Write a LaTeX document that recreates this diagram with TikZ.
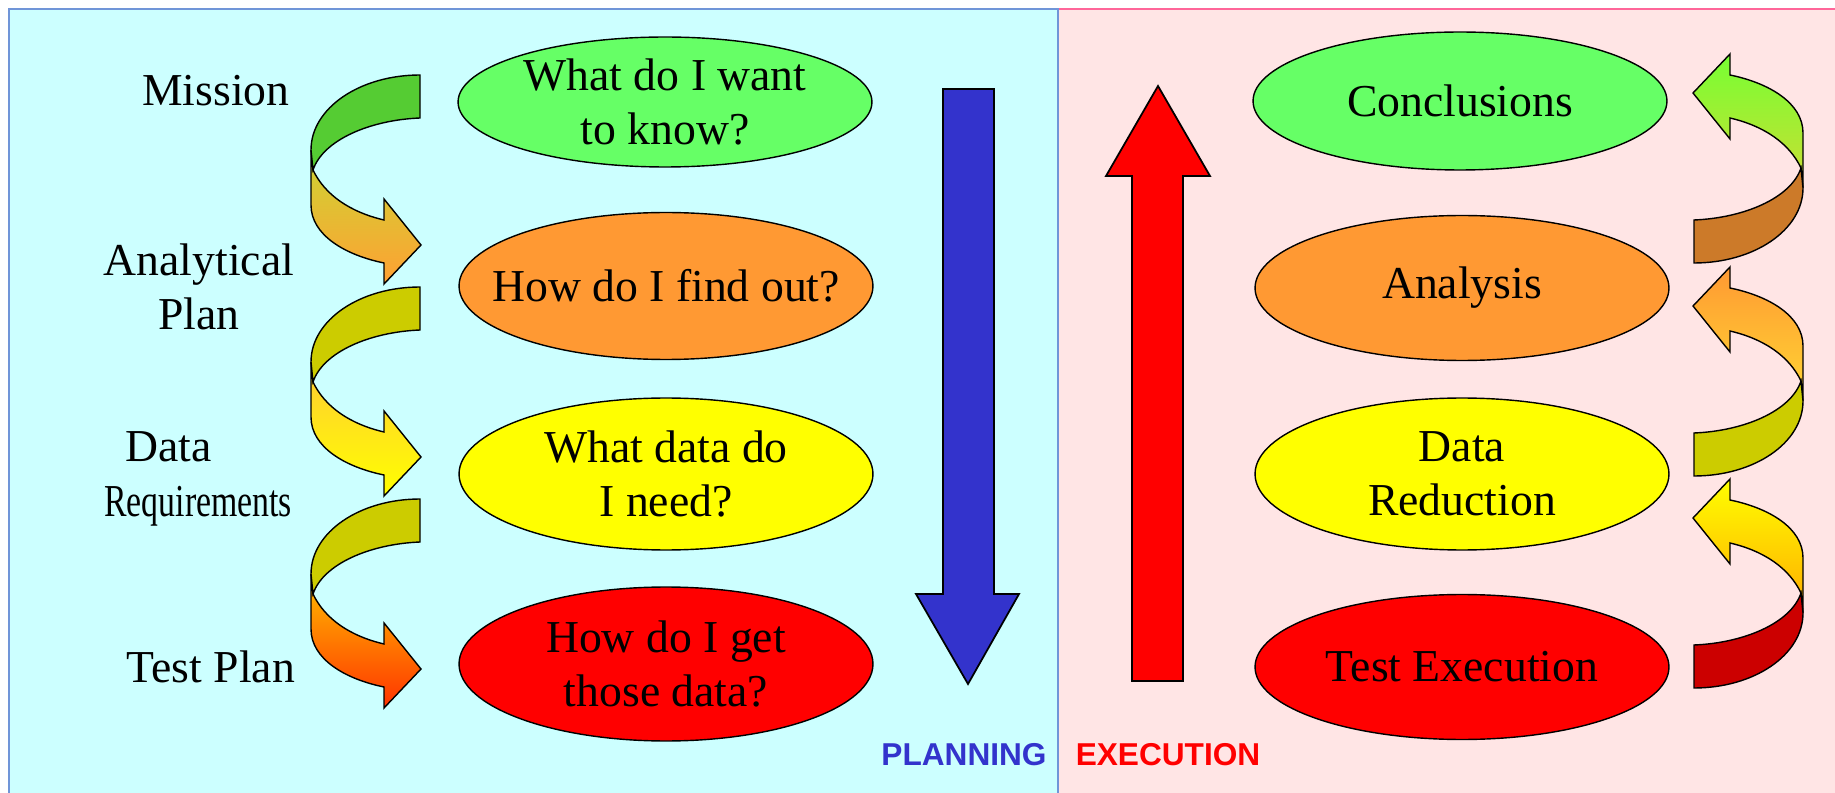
\documentclass[tikz,border=0pt]{standalone}
\usepackage{fontspec}
\setmainfont{Liberation Serif}
\setsansfont{Liberation Sans}
\usepackage{tikz}
\usetikzlibrary{shapes}

\definecolor{planbg}{HTML}{CCFFFF}
\definecolor{execbg}{HTML}{FFE5E5}
\definecolor{planline}{HTML}{7095D8}
\definecolor{execline}{HTML}{FF6699}
\definecolor{lgreen}{HTML}{66FF66}
\definecolor{lorange}{HTML}{FF9933}
\definecolor{lyellow}{HTML}{FFFF00}
\definecolor{lred}{HTML}{FF0000}
\definecolor{planblue}{HTML}{3333CC}
% turning arrow colours
\definecolor{bandgreen}{HTML}{55CC33}
\definecolor{bandolive}{HTML}{CCCC00}
\definecolor{bandbrown}{HTML}{CC7A29}
\definecolor{banddred}{HTML}{CC0000}
\definecolor{twista}{HTML}{CCD633}
\definecolor{heada}{HTML}{FFA033}
\definecolor{twistb}{HTML}{FFCC33}
\definecolor{twistc}{HTML}{FFC000}
\definecolor{headc}{HTML}{FF3300}
\definecolor{headr}{HTML}{77FF33}
\definecolor{twistr}{HTML}{CCDD33}
\definecolor{twists}{HTML}{FFD633}
\definecolor{twistt}{HTML}{FFAA00}

% turning arrow going down (left side), origin = top right of the band
\newcommand{\downturn}[4]{%
  \begin{scope}[shift={#1}]
    \shade[draw=black, line width=0.8pt, top color=#3, bottom color=#4]
      (-109,75) -- (-109,130) .. controls (-109,160) and (-75,180) .. (-36,188)
      -- (-36,209) -- (1,170) -- (-36,124) -- (-36,145)
      .. controls (-70,137) and (-95,120) .. (-107,95) -- cycle;
    \filldraw[fill=#2, line width=0.8pt]
      (0,0) .. controls (-60,0) and (-109,33) .. (-109,75) -- (-107,95)
      .. controls (-97,65) and (-50,45) .. (0,43) -- cycle;
  \end{scope}}

% turning arrow going up (right side), origin = bottom left of the band
\newcommand{\upturn}[4]{%
  \begin{scope}[shift={#1}]
    \shade[draw=black, line width=0.8pt, top color=#3, bottom color=#4]
      (109,-75) -- (109,-130) .. controls (109,-160) and (75,-180) .. (36,-188)
      -- (36,-209) -- (-1,-170) -- (36,-124) -- (36,-145)
      .. controls (70,-137) and (95,-120) .. (107,-95) -- cycle;
    \filldraw[fill=#2, line width=0.8pt]
      (0,0) .. controls (60,0) and (109,-33) .. (109,-75) -- (107,-95)
      .. controls (97,-65) and (50,-45) .. (0,-43) -- cycle;
  \end{scope}}

\begin{document}
\begin{tikzpicture}[
        x=0.02cm, y=-0.02cm,
        every node/.style={font=\fontsize{26}{31}\selectfont},
        stage/.style={draw, ellipse, line width=0.8pt, minimum width=8.28cm,
            inner xsep=-1cm, inner ysep=-0.5cm, align=center},
        rowtitle/.style={align=center},
        phase/.style={font=\sffamily\bfseries\fontsize{18}{22}\selectfont},
        bigarrow/.style={draw=black, line width=1pt}
    ]
        \useasboundingbox (0,0) rectangle (1835,793);

        % Panels
        \fill[planbg] (9,9) rectangle (1058,793);
        \fill[execbg] (1058,9) rectangle (1835,793);
        \draw[execline, line width=1.1pt] (1058,9) -- (1835,9);
        \draw[planline, line width=1.1pt] (9,793) -- (9,9) -- (1058,9) -- (1058,793);

        % Row titles
        \node (mission) [rowtitle] at (216,91) {Mission};
        \node (anplan) [rowtitle] at (199,287) {Analytical\\Plan};
        \node (datareq) [rowtitle, align=left, inner sep=0pt, anchor=west] at (104,479)
            {\hspace*{0.42cm}Data\\\scalebox{0.74}[1]{Requirements}};
        \node (testplan) [rowtitle] at (211,667) {Test Plan};

        % Planning questions
        \node (want) [stage, fill=lgreen, minimum height=2.6cm] at (665,102) {What do I want\\to know?};
        \node (find) [stage, fill=lorange, minimum height=2.94cm] at (666,286) {How do I find out?};
        \node (need) [stage, fill=lyellow, minimum height=3.04cm] at (666,474) {What data do\\I need?};
        \node (get) [stage, fill=lred, minimum height=3.08cm] at (666,664) {How do I get\\those data?};

        % Execution steps
        \node (concl) [stage, fill=lgreen, minimum height=2.76cm] at (1460,101) {Conclusions};
        \node (analysis) [stage, fill=lorange, minimum height=2.9cm] at (1462,288) {Analysis};
        \node (reduction) [stage, fill=lyellow, minimum height=3.04cm] at (1462,474) {Data\\Reduction};
        \node (testexec) [stage, fill=lred, minimum height=2.9cm] at (1462,667) {Test Execution};

        % Turning arrows
        \downturn{(420,75)}{bandgreen}{twista}{heada}
        \downturn{(420,287)}{bandolive}{twistb}{lyellow}
        \downturn{(420,499)}{bandolive}{twistc}{headc}
        \upturn{(1694,263)}{bandbrown}{headr}{twistr}
        \upturn{(1694,476)}{bandolive}{lorange}{twists}
        \upturn{(1694,688)}{banddred}{lyellow}{twistt}

        % Phase arrows
        \draw[bigarrow, fill=planblue] (943,89) -- (994,89) -- (994,594) -- (1019,594)
            -- (968,684) -- (916,594) -- (943,594) -- cycle;
        \draw[bigarrow, fill=lred] (1132,681) -- (1183,681) -- (1183,176) -- (1210,176)
            -- (1158,86) -- (1106,176) -- (1132,176) -- cycle;

        % Phase names
        \node (planning) [phase, text=planblue] at (964,755) {PLANNING};
        \node (execution) [phase, text=lred] at (1168,755) {EXECUTION};

    \end{tikzpicture}
\end{document}
